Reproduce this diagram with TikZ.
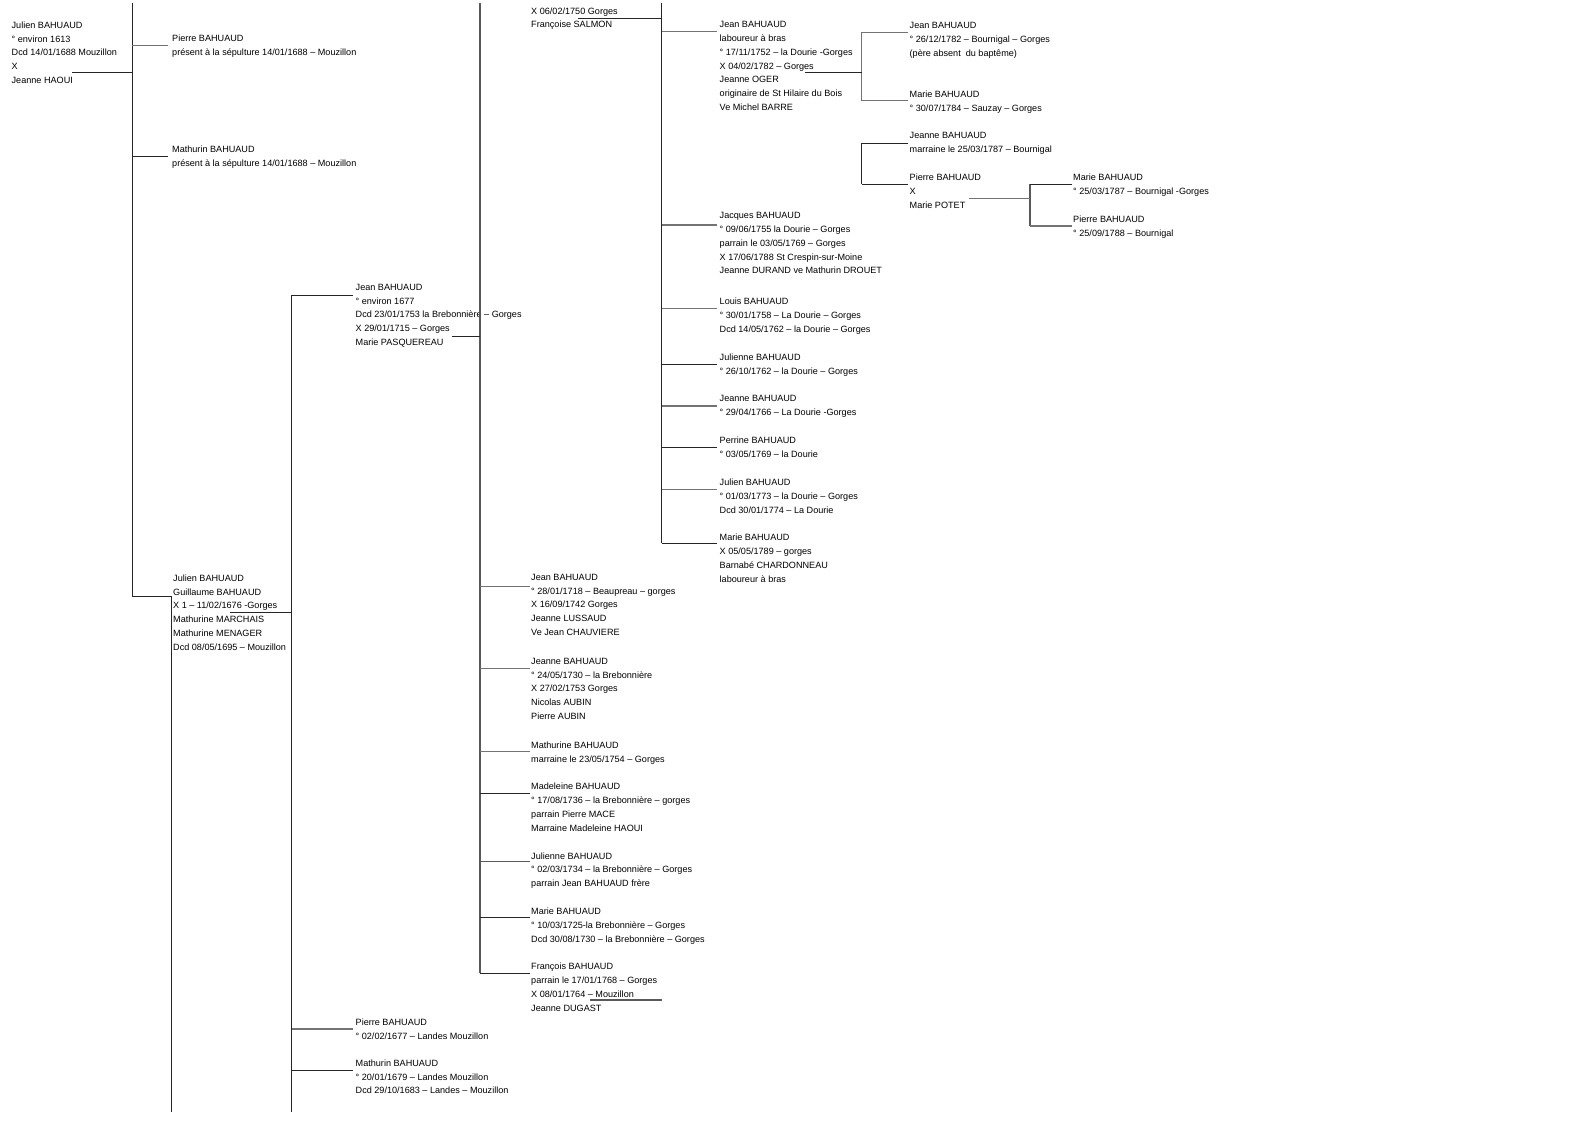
\documentclass[tikz,border=0pt]{standalone}
\usepackage{fontspec}
\setmainfont{Liberation Sans}
\begin{document}
\begin{tikzpicture}[x=1pt,y=-1pt,
  pers/.style={anchor=north west,inner sep=0pt,align=left,yshift=-4pt,
    font=\fontsize{9.1}{13.75}\selectfont,execute at begin node=\strut},
  bl/.style={draw=black!85,line width=0.9pt},
  gl/.style={draw=black!55,line width=1.4pt},
  ml/.style={draw=black!65,line width=1.1pt}]
\path[fill=white,use as bounding box] (0,0) rectangle (1588,1123);

% ---------- persons ----------
\node[pers] (jul1613) at (11.5,17.6) {Julien BAHUAUD\\° environ 1613\\Dcd 14/01/1688 Mouzillon\\X\\Jeanne HAOUI};
\node[pers] (pie1) at (172,31.0) {Pierre BAHUAUD\\présent à la sépulture 14/01/1688 – Mouzillon};
\node[pers] (mat1) at (172,141.6) {Mathurin BAHUAUD\\présent à la sépulture 14/01/1688 – Mouzillon};
\node[pers] (jul2) at (173,570.6) {Julien BAHUAUD\\Guillaume BAHUAUD\\X 1 – 11/02/1676 -Gorges\\Mathurine MARCHAIS\\Mathurine MENAGER\\Dcd 08/05/1695 – Mouzillon};

\node[pers] (jean1677) at (355.5,280.0) {Jean BAHUAUD\\° environ 1677\\Dcd 23/01/1753 la Brebonnière – Gorges\\X 29/01/1715 – Gorges\\Marie PASQUEREAU};
\node[pers] (pie1677) at (355.5,1015.0) {Pierre BAHUAUD\\° 02/02/1677 – Landes Mouzillon};
\node[pers] (mat1679) at (355.5,1055.6) {Mathurin BAHUAUD\\° 20/01/1679 – Landes Mouzillon\\Dcd 29/10/1683 – Landes – Mouzillon};

\node[pers] (salmon) at (531,3.4) {X 06/02/1750 Gorges\\Françoise SALMON};
\node[pers] (jean1718) at (531,570.0) {Jean BAHUAUD\\° 28/01/1718 – Beaupreau – gorges\\X 16/09/1742 Gorges\\Jeanne LUSSAUD\\Ve Jean CHAUVIERE};
\node[pers] (jeanne1730) at (531,654.0) {Jeanne BAHUAUD\\° 24/05/1730 – la Brebonnière\\X 27/02/1753 Gorges\\Nicolas AUBIN\\Pierre AUBIN};
\node[pers] (mathurine) at (531,737.6) {Mathurine BAHUAUD\\marraine le 23/05/1754 – Gorges};
\node[pers] (madeleine) at (531,779.0) {Madeleine BAHUAUD\\° 17/08/1736 – la Brebonnière – gorges\\parrain Pierre MACE\\Marraine Madeleine HAOUI};
\node[pers] (julienne1734) at (531,848.3) {Julienne BAHUAUD\\° 02/03/1734 – la Brebonnière – Gorges\\parrain Jean BAHUAUD frère};
\node[pers] (marie1725) at (531,904.0) {Marie BAHUAUD\\° 10/03/1725-la Brebonnière – Gorges\\Dcd 30/08/1730 – la Brebonnière – Gorges};
\node[pers] (francois) at (531,959.0) {François BAHUAUD\\parrain le 17/01/1768 – Gorges\\X 08/01/1764 – Mouzillon\\Jeanne DUGAST};

\node[pers] (jeanlab) at (719.5,17.3) {Jean BAHUAUD\\laboureur à bras\\° 17/11/1752 – la Dourie -Gorges\\X 04/02/1782 – Gorges\\Jeanne OGER\\originaire de St Hilaire du Bois\\Ve Michel BARRE};
\node[pers] (jacques) at (719.5,208.3) {Jacques BAHUAUD\\° 09/06/1755 la Dourie – Gorges\\parrain le 03/05/1769 – Gorges\\X 17/06/1788 St Crespin-sur-Moine\\Jeanne DURAND ve Mathurin DROUET};
\node[pers] (louis) at (719.5,294.0) {Louis BAHUAUD\\° 30/01/1758 – La Dourie – Gorges\\Dcd 14/05/1762 – la Dourie – Gorges};
\node[pers] (julienne1762) at (719.5,350.0) {Julienne BAHUAUD\\° 26/10/1762 – la Dourie – Gorges};
\node[pers] (jeanne1766) at (719.5,391.0) {Jeanne BAHUAUD\\° 29/04/1766 – La Dourie -Gorges};
\node[pers] (perrine) at (719.5,432.6) {Perrine BAHUAUD\\° 03/05/1769 – la Dourie};
\node[pers] (julien1773) at (719.5,475.0) {Julien BAHUAUD\\° 01/03/1773 – la Dourie – Gorges\\Dcd 30/01/1774 – La Dourie};
\node[pers] (marie1789) at (719.5,530.0) {Marie BAHUAUD\\X 05/05/1789 – gorges\\Barnabé CHARDONNEAU\\laboureur à bras};

\node[pers] (jean1782) at (909.5,18.3) {Jean BAHUAUD\\° 26/12/1782 – Bournigal – Gorges\\(père absent\ \ du baptême)};
\node[pers] (marie1784) at (909.5,86.6) {Marie BAHUAUD\\° 30/07/1784 – Sauzay – Gorges};
\node[pers] (jeanne1787) at (909.5,128.3) {Jeanne BAHUAUD\\marraine le 25/03/1787 – Bournigal};
\node[pers] (pierrepotet) at (909.5,170.0) {Pierre BAHUAUD\\X\\Marie POTET};

\node[pers] (marie1787) at (1073,170.0) {Marie BAHUAUD\\° 25/03/1787 – Bournigal -Gorges};
\node[pers] (pierre1788) at (1073,211.6) {Pierre BAHUAUD\\° 25/09/1788 – Bournigal};

% ---------- trunk 1 (children of Julien 1613) ----------
\coordinate (t1top) at (132,3);
\coordinate (t1bot) at (132,596);
\coordinate (jul1613-m) at (72,72.7);
\coordinate (pie1-in) at (168.3,45.7);
\coordinate (mat1-in) at (168.3,156);
\coordinate (jul2-in) at (171.7,596);
\draw[bl] (t1top) -- (t1bot);
\draw[bl] (jul1613-m) -- (jul1613-m -| t1top);
\draw[gl] (pie1-in -| t1top) -- (pie1-in);
\draw[bl] (mat1-in -| t1top) -- (mat1-in);
\draw[bl] (t1bot) -- (jul2-in);
\coordinate (jul2-down) at (171.7,1112);
\draw[bl] (jul2-in) -- (jul2-down);

% ---------- trunk 2 (children of Julien & Mathurine) ----------
\coordinate (t2top) at (291.7,295);
\coordinate (t2bot) at (291.7,1112);
\coordinate (jul2-m) at (230,612.7);
\coordinate (jean1677-in) at (353,295);
\coordinate (pie1677-in) at (353,1029);
\coordinate (mat1679-in) at (353,1070.3);
\draw[bl] (t2top) -- (t2bot);
\draw[bl] (jul2-m) -- (jul2-m -| t2top);
\draw[bl] (t2top) -- (jean1677-in);
\draw[gl] (pie1677-in -| t2top) -- (pie1677-in);
\draw[bl] (mat1679-in -| t2top) -- (mat1679-in);

% ---------- trunk 3 (children of Jean 1677) ----------
\coordinate (t3top) at (480,3);
\coordinate (t3bot) at (480,973);
\coordinate (jean1677-m) at (451.7,336.7);
\coordinate (jean1718-in) at (530,586.7);
\coordinate (jeanne1730-in) at (530,668.3);
\coordinate (mathurine-in) at (530,751.7);
\coordinate (madeleine-in) at (530,793.3);
\coordinate (julienne1734-in) at (530,861.7);
\coordinate (marie1725-in) at (530,917.3);
\coordinate (francois-in) at (530,973);
\draw[ml] (t3top) -- (t3bot);
\draw[bl] (jean1677-m) -- (jean1677-m -| t3top);
\draw[gl] (jean1718-in -| t3top) -- (jean1718-in);
\draw[gl] (jeanne1730-in -| t3top) -- (jeanne1730-in);
\draw[gl] (mathurine-in -| t3top) -- (mathurine-in);
\draw[bl] (madeleine-in -| t3top) -- (madeleine-in);
\draw[ml] (julienne1734-in -| t3top) -- (julienne1734-in);
\draw[bl] (marie1725-in -| t3top) -- (marie1725-in);
\draw[bl] (t3bot) -- (francois-in);
\coordinate (francois-m) at (590,1000);
\coordinate (francois-m2) at (661.7,1000);
\draw[ml] (francois-m) -- (francois-m2);

% ---------- trunk 4 (children of the 1750 couple) ----------
\coordinate (t4top) at (661.7,3);
\coordinate (t4bot) at (661.7,543.3);
\coordinate (salmon-m) at (578,18.3);
\coordinate (jeanlab-in) at (716.7,31.7);
\coordinate (jacques-in) at (716.7,225);
\coordinate (louis-in) at (716.7,308.3);
\coordinate (julienne1762-in) at (716.7,364);
\coordinate (jeanne1766-in) at (716.7,406);
\coordinate (perrine-in) at (716.7,447.3);
\coordinate (julien1773-in) at (716.7,489.3);
\coordinate (marie1789-in) at (716.7,543.3);
\draw[bl] (t4top) -- (t4bot);
\draw[bl] (salmon-m) -- (salmon-m -| t4top);
\draw[gl] (jeanlab-in -| t4top) -- (jeanlab-in);
\draw[gl] (jacques-in -| t4top) -- (jacques-in);
\draw[gl] (louis-in -| t4top) -- (louis-in);
\draw[bl] (julienne1762-in -| t4top) -- (julienne1762-in);
\draw[gl] (jeanne1766-in -| t4top) -- (jeanne1766-in);
\draw[bl] (perrine-in -| t4top) -- (perrine-in);
\draw[gl] (julien1773-in -| t4top) -- (julien1773-in);
\draw[bl] (t4bot) -- (marie1789-in);

% ---------- trunk 5 (children of Jean laboureur) ----------
\coordinate (t5top) at (861.7,32.3);
\coordinate (t5bot) at (861.7,100.7);
\coordinate (jeanlab-m) at (805,72.7);
\coordinate (jean1782-in) at (908,32.3);
\coordinate (marie1784-in) at (908,100.7);
\draw[gl] (t5top) -- (t5bot);
\draw[bl] (jeanlab-m) -- (jeanlab-m -| t5top);
\draw[gl] (t5top) -- (jean1782-in);
\draw[gl] (t5bot) -- (marie1784-in);

% ---------- trunk 6 ----------
\coordinate (t6top) at (861.7,143.3);
\coordinate (t6bot) at (861.7,184);
\coordinate (jeanne1787-in) at (908,143.3);
\coordinate (pierrepotet-in) at (908,184);
\draw[bl] (t6top) -- (t6bot);
\draw[bl] (t6top) -- (jeanne1787-in);
\draw[bl] (t6bot) -- (pierrepotet-in);

% ---------- trunk 7 (children of Pierre & Marie POTET) ----------
\coordinate (t7top) at (1030,184);
\coordinate (t7bot) at (1030,226);
\coordinate (pierrepotet-m) at (969.3,198.3);
\coordinate (marie1787-in) at (1071.7,184);
\coordinate (pierre1788-in) at (1071.7,226);
\draw[ml] (t7top) -- (t7bot);
\draw[gl] (pierrepotet-m) -- (pierrepotet-m -| t7top);
\draw[bl] (t7top) -- (marie1787-in);
\draw[gl] (t7bot) -- (pierre1788-in);
\end{tikzpicture}
\end{document}
